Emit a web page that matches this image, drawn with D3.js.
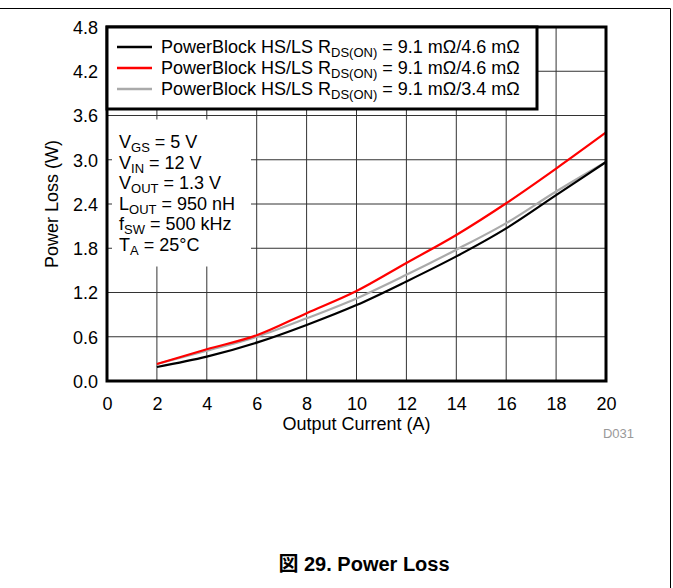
<!DOCTYPE html>
<html>
<head>
<meta charset="utf-8">
<script src="https://cdn.jsdelivr.net/npm/d3@7"></script>
<style>
  body { margin: 0; background: #fff; }
  svg { font-family: "Liberation Sans", Arial, sans-serif; }
</style>
</head>
<body>
<div id="chart"></div>
<script>
// values
const current = [2, 4, 6, 8, 10, 12, 14, 16, 18, 20];
const lossBlack = [0.19, 0.33, 0.52, 0.76, 1.03, 1.35, 1.69, 2.07, 2.52, 2.97];
const lossRed = [0.23, 0.43, 0.62, 0.92, 1.22, 1.60, 1.98, 2.41, 2.88, 3.37];
const lossGray = [0.23, 0.41, 0.60, 0.85, 1.12, 1.44, 1.78, 2.14, 2.57, 2.97];
const xTicks = [0, 2, 4, 6, 8, 10, 12, 14, 16, 18, 20];
const yTicks = [0, 0.6, 1.2, 1.8, 2.4, 3.0, 3.6, 4.2, 4.8];
const legendRon = ["9.1 m\u03A9/4.6 m\u03A9", "9.1 m\u03A9/4.6 m\u03A9", "9.1 m\u03A9/3.4 m\u03A9"];
const conditions = [
  ["V", "GS", " = 5 V"],
  ["V", "IN", " = 12 V"],
  ["V", "OUT", " = 1.3 V"],
  ["L", "OUT", " = 950 nH"],
  ["f", "SW", " = 500 kHz"],
  ["T", "A", " = 25\u00B0C"]
];

const drawChart = (element) => {
  const W = 673, H = 588;
  const left = 107, right = 606, top = 27, bottom = 381;
  const fs = 18, sub = 13;

  d3.select(element).select("svg").remove();
  const svg = d3.select(element).append("svg")
    .attr("width", W).attr("height", H);

  // page frame (top and right edge)
  svg.append("line").attr("x1", 0).attr("x2", 670.5).attr("y1", 8.5).attr("y2", 8.5)
    .attr("stroke", "#000").attr("stroke-width", 1);
  svg.append("line").attr("x1", 670.5).attr("x2", 670.5).attr("y1", 8.5).attr("y2", H)
    .attr("stroke", "#000").attr("stroke-width", 1);

  const x = d3.scaleLinear().domain([0, 20]).range([left, right]);
  const y = d3.scaleLinear().domain([0, 4.8]).range([bottom, top]);

  // grid
  const grid = svg.append("g").attr("stroke", "#333").attr("stroke-width", 1);
  grid.selectAll(".vx").data(xTicks.slice(1, -1)).enter().append("line")
    .attr("x1", d => x(d)).attr("x2", d => x(d))
    .attr("y1", top).attr("y2", bottom);
  grid.selectAll(".hy").data(yTicks.slice(1, -1)).enter().append("line")
    .attr("x1", left).attr("x2", right)
    .attr("y1", d => y(d)).attr("y2", d => y(d));

  // white box behind conditions text (grid hidden there)
  svg.append("rect").attr("x", left + 1).attr("y", y(3.6) + 4)
    .attr("width", 143).attr("height", 147).attr("fill", "#fff");
  svg.append("g").selectAll("line").data([1.8, 2.4, 3.0]).enter().append("line")
    .attr("x1", left).attr("x2", left + 5)
    .attr("y1", d => y(d)).attr("y2", d => y(d))
    .attr("stroke", "#333");

  // curves
  const line = d3.line()
    .x((d, i) => x(current[i]))
    .y(d => y(d))
    .curve(d3.curveMonotoneX);
  const series = [
    { values: lossGray, color: "#aaaaaa" },
    { values: lossBlack, color: "#000000" },
    { values: lossRed, color: "#ff0000" }
  ];
  svg.selectAll(".curve").data(series).enter().append("path")
    .attr("d", d => line(d.values))
    .attr("fill", "none")
    .attr("stroke", d => d.color)
    .attr("stroke-width", 2.2);

  // plot frame
  svg.append("rect").attr("x", left).attr("y", top)
    .attr("width", right - left).attr("height", bottom - top)
    .attr("fill", "none").attr("stroke", "#000").attr("stroke-width", 3);

  // legend
  const lg = svg.append("g");
  lg.append("rect").attr("x", left).attr("y", top)
    .attr("width", 430).attr("height", 82)
    .attr("fill", "#fff").attr("stroke", "#000").attr("stroke-width", 3);
  const legendColors = ["#000000", "#ff0000", "#aaaaaa"];
  legendRon.forEach((r, i) => {
    const ly = 47 + i * 21;
    lg.append("line").attr("x1", 117).attr("x2", 152).attr("y1", ly).attr("y2", ly)
      .attr("stroke", legendColors[i]).attr("stroke-width", 2.5);
    const t = lg.append("text").attr("x", 161).attr("y", ly + 6)
      .attr("font-size", fs).attr("fill", "#000");
    t.append("tspan").text("PowerBlock HS/LS R");
    t.append("tspan").attr("font-size", sub).attr("dy", 4).text("DS(ON)");
    t.append("tspan").attr("dy", -4).text(" = " + r);
  });

  // conditions
  conditions.forEach((c, i) => {
    const t = svg.append("text").attr("x", 119).attr("y", 148 + i * 20.5)
      .attr("font-size", fs).attr("fill", "#000");
    t.append("tspan").text(c[0]);
    t.append("tspan").attr("font-size", sub).attr("dy", 4).text(c[1]);
    t.append("tspan").attr("dy", -4).text(c[2]);
  });

  // axes labels
  const xAxis = d3.axisBottom(x).tickValues(xTicks).tickSize(0).tickPadding(0)
    .tickFormat(d3.format("d"));
  const gx = svg.append("g").attr("transform", `translate(0,${bottom})`).call(xAxis);
  gx.attr("font-size", null).attr("font-family", null);
  gx.select(".domain").remove();
  gx.selectAll("text").attr("font-size", fs).attr("fill", "#000")
    .attr("dy", 0).attr("y", 29);

  const yAxis = d3.axisLeft(y).tickValues(yTicks).tickSize(0).tickPadding(0)
    .tickFormat(d3.format(".1f"));
  const gy = svg.append("g").attr("transform", `translate(${left},0)`).call(yAxis);
  gy.attr("font-size", null).attr("font-family", null);
  gy.select(".domain").remove();
  gy.selectAll("text").attr("font-size", fs).attr("fill", "#000")
    .attr("x", -9).attr("dy", "0.35em");

  svg.append("text").attr("x", x(10)).attr("y", 430)
    .attr("text-anchor", "middle").attr("font-size", fs).text("Output Current (A)");
  svg.append("text").attr("transform", `translate(58,${y(2.4)}) rotate(-90)`)
    .attr("text-anchor", "middle").attr("font-size", fs).text("Power Loss (W)");

  svg.append("text").attr("x", 634).attr("y", 438).attr("text-anchor", "end")
    .attr("font-size", 13).attr("fill", "#999").text("D031");

  svg.append("text").attr("x", 364).attr("y", 571).attr("text-anchor", "middle")
    .attr("font-size", 20).attr("font-weight", "bold")
    .attr("font-family", "Liberation Sans, 'Noto Sans CJK JP', sans-serif")
    .text("\u56F3 29. Power Loss");
};

drawChart(document.getElementById("chart"));
</script>
</body>
</html>
